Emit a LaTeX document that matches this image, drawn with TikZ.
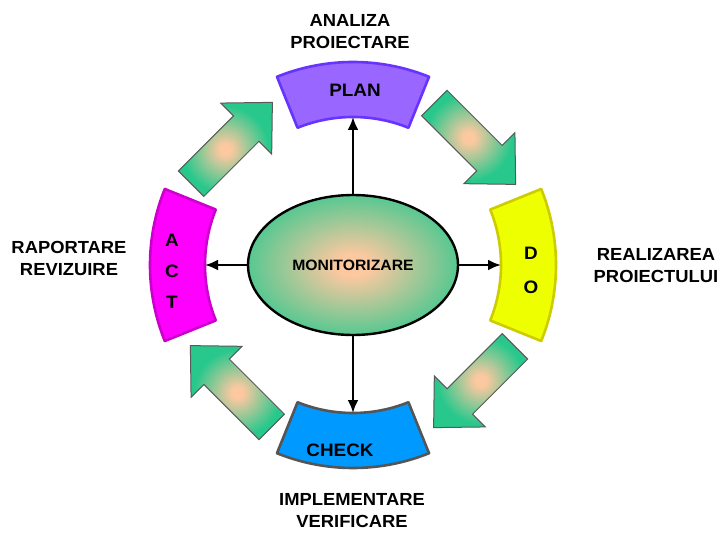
\documentclass[tikz,border=0pt]{standalone}
\usepackage{fontspec}
\setmainfont[FakeStretch=1.05]{Liberation Sans}
\usetikzlibrary{shapes.geometric,arrows.meta}

\definecolor{peach}{RGB}{252,200,160}
\definecolor{pdcagreen}{RGB}{40,200,140}
\definecolor{planfill}{RGB}{153,102,255}
\definecolor{planline}{RGB}{102,51,255}
\definecolor{dofill}{RGB}{238,255,0}
\definecolor{doline}{RGB}{204,204,0}
\definecolor{actfill}{RGB}{255,0,255}
\definecolor{actline}{RGB}{204,0,204}
\definecolor{checkfill}{RGB}{0,153,255}
\definecolor{checkline}{RGB}{85,85,85}

\pgfdeclareradialshading{monshade}{\pgfpointorigin}{color(0bp)=(peach); color(4bp)=(peach); color(31bp)=(pdcagreen); color(50bp)=(pdcagreen)}
\pgfdeclareradialshading{arrowshade}{\pgfpointorigin}{color(0bp)=(peach); color(3bp)=(peach); color(23bp)=(pdcagreen); color(50bp)=(pdcagreen)}

\begin{document}
\begin{tikzpicture}[x=1pt, y=1pt,
  seglabel/.style={font=\fontsize{18}{20}\bfseries\selectfont, align=center, inner sep=0pt},
  outlabel/.style={font=\fontsize{17.5}{22}\bfseries\selectfont, align=center},
  blockarrow/.style={draw=black!65, line width=1pt, shading=arrowshade, line join=miter},
  link/.style={line width=2.8pt, -{Latex[length=13pt,width=11pt]}}]
\useasboundingbox (0,0) rectangle (722,533);
\coordinate (C) at (353,268);
% ring segments
\foreach \ang/\fc/\lc in {90/planfill/planline, 0/dofill/doline, 180/actfill/actline, 270/checkfill/checkline}
  \draw[fill=\fc, draw=\lc, line width=2.6pt, line join=round]
    ([shift={(\ang-22:203pt)}]C) arc[start angle=\ang-22, end angle=\ang+22, radius=203pt]
    -- ([shift={(\ang+22:148pt)}]C) arc[start angle=\ang+22, end angle=\ang-22, radius=148pt] -- cycle;
% block arrows between the segments
\foreach \ang in {45,135,225,315}
  \path[blockarrow, shift={(C)}, rotate=\ang, shift={(172,0)}, rotate=-90]
    (-57,-18) -- (21,-18) -- (21,-36) -- (58,0) -- (21,36) -- (21,18) -- (-57,18) -- cycle;
% centre
\node[ellipse, draw, line width=2.4pt, minimum width=210pt, minimum height=140pt,
  shading=monshade, font=\fontsize{15}{16}\bfseries\selectfont] (mon) at (C) {MONITORIZARE};
\coordinate (planin) at ([shift={(90:148pt)}]C);
\coordinate (doin) at ([shift={(0:148pt)}]C);
\coordinate (actin) at ([shift={(180:148pt)}]C);
\coordinate (checkin) at ([shift={(270:148pt)}]C);
\draw[link] (mon.north) -- (planin);
\draw[link] (mon.east) -- (doin);
\draw[link] (mon.west) -- (actin);
\draw[link] (mon.south) -- (checkin);
% labels
\node[seglabel] (plan) at ([shift={(2,175)}]C) {PLAN};
\node[seglabel, font=\fontsize{18}{34}\bfseries\selectfont] (do) at ([shift={(178,-5)}]C) {D\\O};
\node[seglabel, font=\fontsize{18}{31}\bfseries\selectfont] (act) at ([shift={(-181,-6)}]C) {A\\C\\T};
\node[seglabel] (check) at ([shift={(-13,-185)}]C) {CHECK};
\node[outlabel] (analiza) at (350,501) {ANALIZA\\PROIECTARE};
\node[outlabel] (realizare) at (656,267) {REALIZAREA\\PROIECTULUI};
\node[outlabel] (raportare) at (69,275) {RAPORTARE\\REVIZUIRE};
\node[outlabel] (implementare) at (352,22) {IMPLEMENTARE\\VERIFICARE};
\end{tikzpicture}
\end{document}
